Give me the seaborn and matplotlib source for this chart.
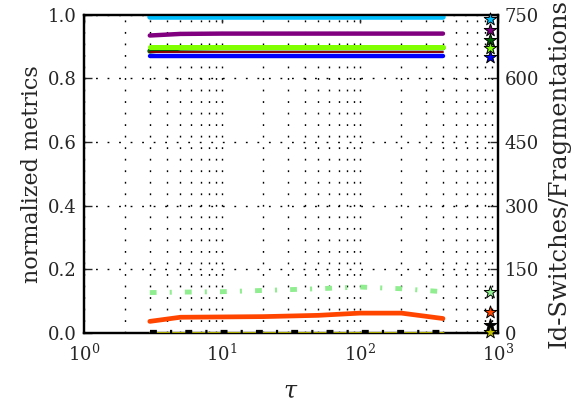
import matplotlib
matplotlib.use("Agg")
import matplotlib.pyplot as plt
import seaborn as sns
import pandas as pd
from matplotlib.ticker import LogLocator

sns.set_style("white")
plt.rcParams["font.family"] = ["DejaVu Serif"]
plt.rcParams["mathtext.fontset"] = "dejavuserif"

# time-window parameter
tau = [3, 5, 10, 20, 50, 100, 200, 400]

# normalized metrics (left axis)
m_cyan = [0.992, 0.992, 0.992, 0.992, 0.992, 0.992, 0.992, 0.992]
m_purple = [0.935, 0.940, 0.941, 0.941, 0.941, 0.941, 0.941, 0.941]
m_darkgreen = [0.886, 0.895, 0.896, 0.896, 0.896, 0.896, 0.896, 0.896]
m_lime = [0.898, 0.898, 0.898, 0.898, 0.898, 0.898, 0.898, 0.898]
m_darkred = [0.883, 0.883, 0.883, 0.883, 0.883, 0.883, 0.883, 0.883]
m_blue = [0.869, 0.869, 0.869, 0.869, 0.869, 0.869, 0.869, 0.869]
m_orange = [0.036, 0.049, 0.050, 0.051, 0.055, 0.062, 0.062, 0.045]

# id-switches / fragmentations (right axis)
c_lightgreen = [95, 96, 97, 100, 104, 108, 104, 97]
c_black = [0, 0, 0, 0, 0, 0, 0, 0]
c_yellow = [0, 0, 0, 0, 0, 0, 0, 0]

# reference values shown as stars at the right edge (right axis units)
star_x = 880
star_colors = ["#00bfff", "#800080", "#006400", "#7fff00", "#0000ff",
               "#90ee90", "#ff4500", "#000000", "#bfbf00"]
star_values = [740, 715, 690, 672, 651, 97, 49, 19, 3]

left_ticks = [0.0, 0.2, 0.4, 0.6, 0.8, 1.0]
right_ticks = [0, 150, 300, 450, 600, 750]

fig = plt.figure(figsize=(5.83, 4.01), dpi=100)
ax = fig.add_axes([0.144, 0.170, 0.710, 0.793])
ax2 = ax.twinx()

df_left = pd.DataFrame({"tau": tau, "cyan": m_cyan, "purple": m_purple,
                        "darkgreen": m_darkgreen, "lime": m_lime,
                        "darkred": m_darkred, "blue": m_blue,
                        "orange": m_orange})
df_right = pd.DataFrame({"tau": tau, "lightgreen": c_lightgreen,
                         "black": c_black, "yellow": c_yellow})

left_styles = [("cyan", "#00bfff", 4.0), ("purple", "#800080", 3.2),
               ("darkgreen", "#006400", 3.6), ("lime", "#7fff00", 3.6),
               ("darkred", "#8b0000", 1.4), ("blue", "#0000ff", 3.2),
               ("orange", "#ff4500", 3.4)]
for col, color, lw in left_styles:
    sns.lineplot(data=df_left, x="tau", y=col, ax=ax, color=color,
                 linewidth=lw, zorder=3)

sns.lineplot(data=df_right, x="tau", y="yellow", ax=ax2, color="#bfbf00",
             linewidth=2.0, zorder=3)
l_black = sns.lineplot(data=df_right, x="tau", y="black", ax=ax2, color="black",
                       linewidth=4.5, zorder=4).lines[-1]
l_black.set_dashes([1.1, 2.1, 0.35, 2.1])
l_green = sns.lineplot(data=df_right, x="tau", y="lightgreen", ax=ax2,
                       color="#90ee90", linewidth=3.5, zorder=3).lines[-1]
l_green.set_dashes([1.4, 2.7, 0.42, 2.7])

for xv, yv, c in zip([star_x] * len(star_values), star_values, star_colors):
    sns.scatterplot(x=[xv], y=[yv], ax=ax2, marker="*", s=90,
                    color=c, edgecolor="black", linewidth=0.7,
                    zorder=6, clip_on=False)

ax.set_xscale("log")
ax.set_xlim(1, 1000)
ax.set_ylim(0, 1)
ax2.set_ylim(0, 750)
ax.set_yticks(left_ticks)
ax.set_yticklabels([f"{v:.1f}" for v in left_ticks])
ax2.set_yticks(right_ticks)
ax2.set_yticklabels([str(v) for v in right_ticks])
ax.xaxis.set_major_locator(LogLocator(base=10, numticks=10))
ax.xaxis.set_minor_locator(LogLocator(base=10, subs=range(2, 10), numticks=10))

grid_ls = (0, (1.3, 7.0))
ax.grid(True, which="major", axis="both", color="black",
        linestyle=grid_ls, linewidth=1.0)
ax.grid(True, which="minor", axis="x", color="black",
        linestyle=grid_ls, linewidth=1.0)
ax.set_axisbelow(True)

for a in (ax, ax2):
    for s in a.spines.values():
        s.set_linewidth(1.6)
        s.set_color("black")
    a.set_xlabel("")
    a.set_ylabel("")

ax.tick_params(axis="y", which="major", direction="in", length=6,
               width=1.0, labelsize=13, right=False, pad=5)
ax.tick_params(axis="x", which="major", direction="in", length=6,
               width=1.0, labelsize=13, top=True, pad=8)
ax.tick_params(axis="x", which="minor", length=0)
ax2.tick_params(axis="y", which="major", direction="in", length=6,
                width=1.0, labelsize=13, pad=5)

ax.set_xlabel(r"$\tau$", fontsize=17, labelpad=10)
ax.set_ylabel("normalized metrics", fontsize=16, labelpad=4)
ax2.set_ylabel("Id-Switches/Fragmentations", fontsize=17.5, labelpad=6)

fig.savefig("out.png", dpi=100)
